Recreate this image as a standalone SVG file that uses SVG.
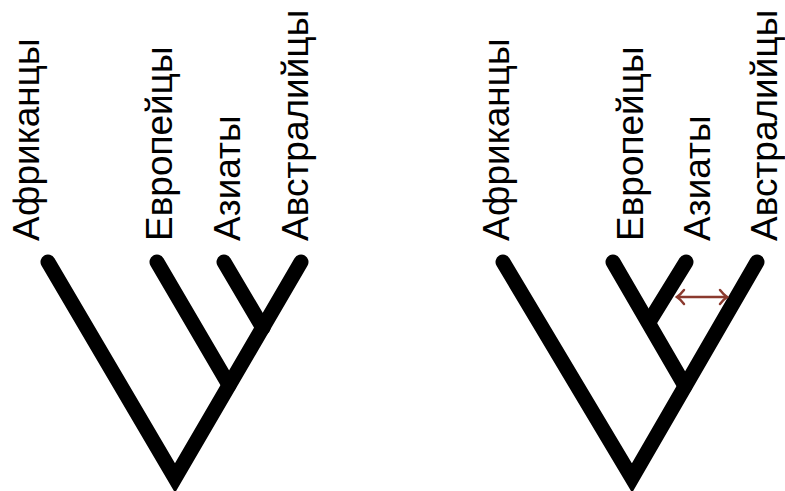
<svg xmlns="http://www.w3.org/2000/svg" width="785" height="491" viewBox="0 0 785 491">
<defs>
<style>
.lbl{font-family:"Liberation Sans",Arial,sans-serif;font-size:37px;fill:#000}
.br{fill:none;stroke:#000;stroke-width:15;stroke-linecap:round;stroke-linejoin:miter}
.arr{fill:none;stroke:#8b3a2e;stroke-width:2.5;stroke-linecap:round}
</style>
</defs>
<rect width="785" height="491" fill="#fff"/>
<g id="labels-left">
<text class="lbl" transform="translate(39,241) rotate(-90)">Африканцы</text>
<text class="lbl" transform="translate(172,241) rotate(-90)">Европейцы</text>
<text class="lbl" transform="translate(240,241) rotate(-90)">Азиаты</text>
<text class="lbl" transform="translate(308,241) rotate(-90)">Австралийцы</text>
</g>
<g id="labels-right">
<text class="lbl" transform="translate(509,241) rotate(-90)">Африканцы</text>
<text class="lbl" transform="translate(643,241) rotate(-90)">Европейцы</text>
<text class="lbl" transform="translate(710,241) rotate(-90)">Азиаты</text>
<text class="lbl" transform="translate(777,241) rotate(-90)">Австралийцы</text>
</g>
<g id="tree-left">
<path class="br" d="M48,262 L175,478 L301,262"/>
<path class="br" d="M157,262 L229,385"/>
<path class="br" d="M224,262 L263,328"/>
</g>
<g id="tree-right">
<path class="br" d="M503,262 L632,478 L757,262"/>
<path class="br" d="M613,262 L685,386"/>
<path class="br" d="M686,262 L649,322"/>
</g>
<g id="connectors">
<path class="arr" d="M677,297 L727,297"/>
<path class="arr" d="M684,290 Q680,295 677,297 Q680,299 684,304"/>
<path class="arr" d="M720,290 Q724,295 727,297 Q724,299 720,304"/>
</g>
</svg>
